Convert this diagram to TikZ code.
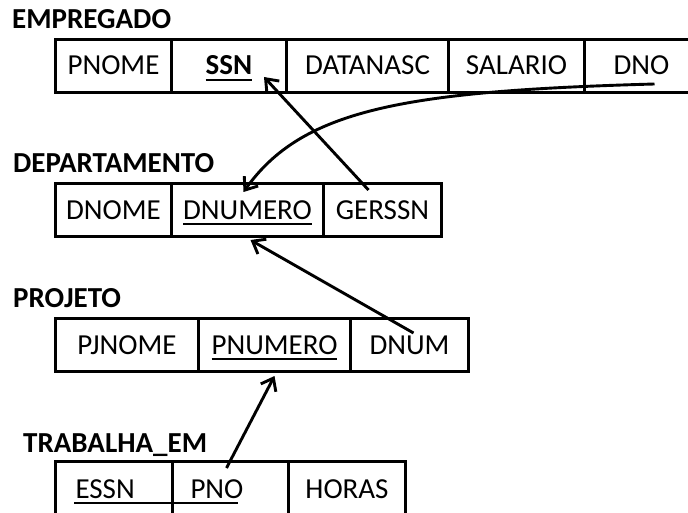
\documentclass[tikz,border=0pt]{standalone}
\usepackage{fontspec}
\setmainfont{Carlito}
\usepackage{tikz}
\usetikzlibrary{arrows.meta}

\newcommand{\pk}[1]{\setbox0\hbox{#1}\rlap{\rule[-6pt]{\wd0}{2.4pt}}\box0}

\tikzset{
  tabela/.style={font=\fontsize{29}{31}\selectfont\bfseries, anchor=base west, inner sep=0pt},
  campo/.style={draw, line width=3pt, anchor=north west, inner sep=0pt,
    minimum height=53pt, text height=18pt, text depth=0pt,
    font=\fontsize{29}{31}\selectfont},
  chave/.style={line width=2.9pt, -{Straight Barb[length=11pt,width=17pt]}}
}

\begin{document}
\begin{tikzpicture}[x=1pt,y=-1pt]
        \clip (0,0) rectangle (688,513);
        \node[tabela] (emp) at (12,29) {EMPREGADO};
        \foreach \n/\x/\w/\t in {pnome/54/116/PNOME, ssn/170/115/{\pk{\textbf{SSN}}},
            datanasc/285/162/DATANASC, salario/447/136/SALARIO, dno/583/114/DNO}
            \node[campo, minimum width=\w pt] (emp-\n) at (\x,38) {\t};
        \node[tabela] (dep) at (13,173) {DEPARTAMENTO};
        \foreach \n/\x/\w/\t in {dnome/54/116/DNOME, dnumero/170/152/{\pk{DNUMERO}}, gerssn/322/118/GERSSN}
            \node[campo, minimum width=\w pt] (dep-\n) at (\x,182) {\t};
        \node[tabela] (proj) at (13,307) {PROJETO};
        \foreach \n/\x/\w/\t in {pjnome/54/143/PJNOME, pnumero/197/152/{\pk{PNUMERO}}, dnum/349/118/DNUM}
            \node[campo, minimum width=\w pt] (proj-\n) at (\x,317) {\t};
        \node[tabela] (trab) at (23,452) {TRABALHA\_EM};
        \node[campo, minimum height=55pt, inner xsep=20pt, text width=77pt, align=left] (trab-essn) at (54,460) {ESSN};
        \node[campo, minimum height=55pt, inner xsep=18pt, text width=80pt, align=left] (trab-pno) at (171,460) {PNO};
        \node[campo, minimum height=55pt, minimum width=117pt] (trab-horas) at (287,460) {HORAS};
        \draw[line width=2.4pt] ([xshift=20pt,yshift=-14pt]trab-essn.west) -- ([xshift=67pt,yshift=-14pt]trab-pno.west);
        \draw[chave] ([xshift=-14pt,yshift=-8pt]dep-gerssn.north) -- ([xshift=35pt,yshift=-11pt]emp-ssn.center);
        \draw[chave] ([xshift=13pt,yshift=-18pt]emp-dno.center) .. controls +(-253,7) and +(58,-82) .. ([xshift=-4pt,yshift=-10pt]dep-dnumero.north);
        \draw[chave] ([xshift=4pt,yshift=-16pt]proj-dnum.north) -- ([xshift=3pt,yshift=-2pt]dep-dnumero.south);
        \draw[chave] ([xshift=-4pt,yshift=-8pt]trab-pno.north) -- ([yshift=-3pt]proj-pnumero.south);
    \end{tikzpicture}
\end{document}
